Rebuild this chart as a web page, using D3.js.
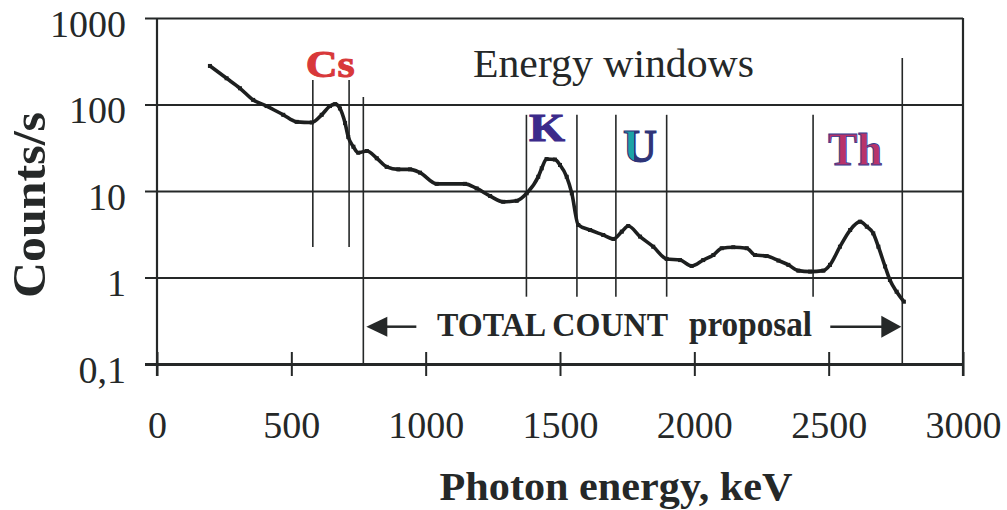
<!DOCTYPE html>
<html>
<head>
<meta charset="utf-8">
<script src="https://cdn.jsdelivr.net/npm/d3@7"></script>
<style>
body { margin: 0; background: #fff; }
svg { display: block; }
</style>
</head>
<body>
<script>
// Spectrum (keV, counts/s)
const energy = [197, 259, 309, 358, 408, 470, 520, 576, 613, 644, 663, 681, 700, 712, 731, 749, 781, 818, 855, 898,
    942, 979, 1041, 1146, 1190, 1240, 1289, 1339, 1376, 1419, 1432, 1450, 1481, 1500, 1525, 1544, 1568, 1612, 1661, 1699,
    1730, 1754, 1798, 1847, 1897, 1947, 1990, 2033, 2071, 2102, 2145, 2195, 2226, 2269, 2313, 2350, 2387, 2431, 2480, 2505,
    2542, 2580, 2617, 2642, 2666, 2685, 2710, 2728, 2753, 2780];
const counts = [279, 201, 154, 113, 96, 76, 63, 62, 76, 96, 101, 90, 61, 42, 32.5, 27.7, 29, 23.9, 19, 17.8,
    17.8, 16.3, 12.1, 12.1, 10.7, 8.75, 7.5, 7.7, 9.4, 14.6, 18.3, 23.4, 23.1, 20, 14.6, 9.4, 4.05, 3.54, 3.1, 2.79,
    3.39, 3.94, 2.97, 2.27, 1.64, 1.59, 1.36, 1.59, 1.82, 2.18, 2.24, 2.18, 1.82, 1.77, 1.57, 1.40, 1.20, 1.17, 1.20, 1.40,
    2.27, 3.54, 4.42, 3.87, 3.24, 2.27, 1.34, 0.935, 0.685, 0.525];

// Window boundary lines: energy, top and bottom (counts/s)
const windowEnergies = [580, 715, 768, 1375, 1563, 1708, 1897, 2442, 2774];
const windowTops = [192, 192, 122, 76, 76, 76, 76, 76, 345];
const windowBottoms = [2.25, 2.25, 0.1, 0.6, 0.6, 0.6, 0.6, 0.6, 0.1];

// Element labels
const elementNames = ["Cs", "K", "U", "Th"];
const elementCentres = [645, 1452, 1798, 2598];
const elementBaselines = [208, 37.8, 21.6, 20];

const xTicks = [0, 500, 1000, 1500, 2000, 2500, 3000];
const yTicks = [0.1, 1, 10, 100, 1000];
const yTickLabels = ["0,1", "1", "10", "100", "1000"];

const totalCountFrom = 768;
const totalCountTo = 2774;

const W = 1007, H = 510;
const serif = '"Liberation Serif", "Times New Roman", serif';
const ink = "#252828";

const svg = d3.select("body").append("svg")
    .attr("width", W)
    .attr("height", H)
    .style("font-family", serif);

const x = d3.scaleLinear().domain([0, 3000]).range([157, 963]);
const y = d3.scaleLog().domain([0.1, 1000]).range([364, 18]);

// U gets a teal stem
const defs = svg.append("defs");
const uGrad = defs.append("linearGradient").attr("id", "uFill");
uGrad.append("stop").attr("offset", "0.33").attr("stop-color", "#1aa3a6");
uGrad.append("stop").attr("offset", "0.33").attr("stop-color", "#2e3478");

// Horizontal grid lines + y tick labels
const gridLeft = 145;
svg.append("g")
    .attr("transform", `translate(${x(3000)},0)`)
    .call(d3.axisLeft(y)
        .tickValues(yTicks)
        .tickFormat((d, i) => yTickLabels[i])
        .tickSizeInner(x(3000) - gridLeft)
        .tickSizeOuter(0)
        .tickPadding(19))
    .attr("font-family", null)
    .attr("font-size", null)
    .call(g => g.select(".domain").remove())
    .call(g => g.selectAll(".tick line")
        .attr("stroke", ink)
        .attr("stroke-width", d => d === 0.1 ? 3 : 2))
    .call(g => g.selectAll(".tick text")
        .attr("fill", ink)
        .attr("font-size", 38)
        .attr("dy", 18));

// x ticks crossing the bottom axis
svg.append("g")
    .attr("transform", `translate(0,${y(0.1)})`)
    .call(d3.axisBottom(x).tickValues(xTicks).tickFormat(d3.format("d")).tickSizeOuter(0))
    .attr("font-family", null)
    .attr("font-size", null)
    .call(g => g.select(".domain").remove())
    .call(g => g.selectAll(".tick line")
        .attr("y1", -12).attr("y2", 12)
        .attr("stroke", ink)
        .attr("stroke-width", 2))
    .call(g => g.selectAll(".tick text")
        .attr("fill", ink)
        .attr("font-size", 38)
        .attr("y", 74)
        .attr("dy", 0));

// left axis and right border
svg.selectAll("line.frame")
    .data([0, 3000])
    .join("line")
    .attr("class", "frame")
    .attr("x1", d => x(d)).attr("x2", d => x(d))
    .attr("y1", y(1000)).attr("y2", y(0.1) + 12)
    .attr("stroke", ink)
    .attr("stroke-width", 2.2);

// window boundaries
svg.selectAll("line.window")
    .data(windowEnergies)
    .join("line")
    .attr("class", "window")
    .attr("x1", d => x(d)).attr("x2", d => x(d))
    .attr("y1", (d, i) => y(windowTops[i]))
    .attr("y2", (d, i) => y(windowBottoms[i]))
    .attr("stroke", ink)
    .attr("stroke-width", 1.6);

// spectrum
const pts = energy.map((e, i) => [e, counts[i]]);
const line = d3.line()
    .x(d => x(d[0]))
    .y(d => y(d[1]))
    .curve(d3.curveMonotoneX);

svg.append("path")
    .datum(pts)
    .attr("d", line)
    .attr("fill", "none")
    .attr("stroke", "#1d1f1f")
    .attr("stroke-width", 3.6)
    .attr("stroke-linejoin", "round");

svg.selectAll("rect.pt")
    .data(pts)
    .join("rect")
    .attr("class", "pt")
    .attr("x", d => x(d[0]) - 2)
    .attr("y", d => y(d[1]) - 2)
    .attr("width", 4)
    .attr("height", 4)
    .attr("fill", "#1d1f1f");

// element labels
const labelStyle = {
    Cs: { size: 38, len: 49, fill: "#d8383a", stroke: "#d8383a", sw: 1 },
    K: { size: 39, len: 36, fill: "#3b2a8a", stroke: "#3b2a8a", sw: 1 },
    U: { size: 46, len: 34, fill: "url(#uFill)", stroke: "#2e3478", sw: 1.2 },
    Th: { size: 46, len: 54, fill: "#b8336a", stroke: "#363d8e", sw: 0.9 }
};

svg.selectAll("text.element")
    .data(elementNames)
    .join("text")
    .attr("class", "element")
    .attr("x", (d, i) => x(elementCentres[i]) - labelStyle[d].len / 2)
    .attr("y", (d, i) => y(elementBaselines[i]))
    .attr("font-family", serif)
    .attr("font-size", d => labelStyle[d].size)
    .attr("font-weight", "bold")
    .attr("textLength", d => labelStyle[d].len)
    .attr("lengthAdjust", "spacingAndGlyphs")
    .attr("fill", d => labelStyle[d].fill)
    .attr("stroke", d => labelStyle[d].stroke)
    .attr("stroke-width", d => labelStyle[d].sw)
    .text(d => d);

svg.append("text")
    .attr("x", 473)
    .attr("y", 77)
    .attr("font-size", 41)
    .attr("fill", ink)
    .attr("textLength", 281)
    .attr("lengthAdjust", "spacingAndGlyphs")
    .text("Energy windows");

// TOTAL COUNT arrow
const arrowY = y(0.27);
const arrows = svg.append("g").attr("fill", ink).attr("stroke", ink);
arrows.append("polygon")
    .attr("points", `${x(totalCountFrom) + 3},${arrowY} ${x(totalCountFrom) + 24},${arrowY - 10} ${x(totalCountFrom) + 24},${arrowY + 10}`)
    .attr("stroke", "none");
arrows.append("line")
    .attr("x1", x(totalCountFrom) + 22).attr("x2", x(totalCountFrom) + 53)
    .attr("y1", arrowY).attr("y2", arrowY)
    .attr("stroke-width", 2.5);
arrows.append("polygon")
    .attr("points", `${x(totalCountTo) - 1},${arrowY} ${x(totalCountTo) - 21},${arrowY - 11} ${x(totalCountTo) - 21},${arrowY + 11}`)
    .attr("stroke", "none");
arrows.append("line")
    .attr("x1", x(totalCountTo) - 72).attr("x2", x(totalCountTo) - 19)
    .attr("y1", arrowY).attr("y2", arrowY)
    .attr("stroke-width", 2.5);

svg.append("text")
    .attr("x", 437)
    .attr("y", 336)
    .attr("font-size", 33)
    .attr("font-weight", "bold")
    .attr("fill", ink)
    .attr("textLength", 231)
    .attr("lengthAdjust", "spacingAndGlyphs")
    .text("TOTAL COUNT");

svg.append("text")
    .attr("x", 689)
    .attr("y", 336)
    .attr("font-size", 35)
    .attr("font-weight", "bold")
    .attr("fill", ink)
    .attr("textLength", 123)
    .attr("lengthAdjust", "spacingAndGlyphs")
    .text("proposal");

// axis titles
svg.append("text")
    .attr("x", 616)
    .attr("y", 500)
    .attr("text-anchor", "middle")
    .attr("font-size", 41)
    .attr("font-weight", "bold")
    .attr("fill", ink)
    .attr("textLength", 353)
    .attr("lengthAdjust", "spacingAndGlyphs")
    .text("Photon energy, keV");

svg.append("text")
    .attr("transform", "translate(45,205) rotate(-90)")
    .attr("text-anchor", "middle")
    .attr("font-size", 47)
    .attr("font-weight", "bold")
    .attr("fill", ink)
    .attr("textLength", 186)
    .attr("lengthAdjust", "spacingAndGlyphs")
    .text("Counts/s");
</script>
</body>
</html>
